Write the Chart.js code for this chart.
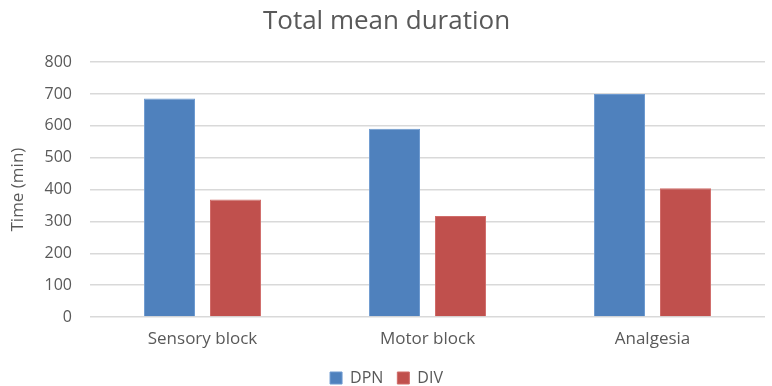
<!DOCTYPE html>
<html>
<head>
<meta charset="utf-8">
<script src="https://cdn.jsdelivr.net/npm/chart.js@4"></script>
<style>
  html, body { margin: 0; padding: 0; background: #ffffff; }
  #wrap { width: 772px; height: 386px; }
</style>
</head>
<body>
<div id="wrap"><canvas id="chart" width="772" height="386"></canvas></div>
<script>
const categories = ["Sensory block", "Motor block", "Analgesia"];
const dpnValues = [686, 591, 700];
const divValues = [369, 317, 404];
const yTicks = [0, 100, 200, 300, 400, 500, 600, 700, 800];

const FONT = "'Open Sans', 'Liberation Sans', sans-serif";
const TEXT = "#595959";

new Chart(document.getElementById("chart"), {
  type: "bar",
  data: {
    labels: categories,
    datasets: [
      { label: "DPN", data: dpnValues, backgroundColor: "#4F81BD", borderColor: "#6E9AD0", borderWidth: 1,
        categoryPercentage: 0.587, barPercentage: 0.773 },
      { label: "DIV", data: divValues, backgroundColor: "#C0504D", borderColor: "#D06C69", borderWidth: 1,
        categoryPercentage: 0.587, barPercentage: 0.773 }
    ]
  },
  options: {
    responsive: false,
    animation: false,
    layout: { padding: { left: 8, right: 7, top: 0, bottom: -10 } },
    plugins: {
      title: {
        display: true,
        text: "Total mean duration",
        color: TEXT,
        font: { family: FONT, size: 26, weight: "normal", lineHeight: 1.2 },
        padding: { top: 6, bottom: 25 }
      },
      legend: {
        position: "bottom",
        labels: {
          color: TEXT,
          font: { family: FONT, size: 16 },
          boxWidth: 12,
          boxHeight: 12,
          padding: 14
        }
      },
      tooltip: { enabled: false }
    },
    scales: {
      x: {
        grid: { display: false },
        border: { display: false },
        afterFit: (scale) => { scale.height = 39; },
        ticks: { color: TEXT, font: { family: FONT, size: 17 }, padding: 4 }
      },
      y: {
        min: 0,
        max: 800,
        afterBuildTicks: (scale) => { scale.ticks = yTicks.map(v => ({ value: v })); },
        afterFit: (scale) => { scale.width = 82; },
        grid: { color: "#D9D9D9", lineWidth: 1.5, drawTicks: false },
        border: { display: false },
        ticks: { color: TEXT, font: { family: FONT, size: 16 }, padding: 18 },
        title: {
          display: true,
          text: "Time (min)",
          color: TEXT,
          font: { family: FONT, size: 17 },
          padding: { top: 0, bottom: 2 }
        }
      }
    }
  }
});
</script>
</body>
</html>
